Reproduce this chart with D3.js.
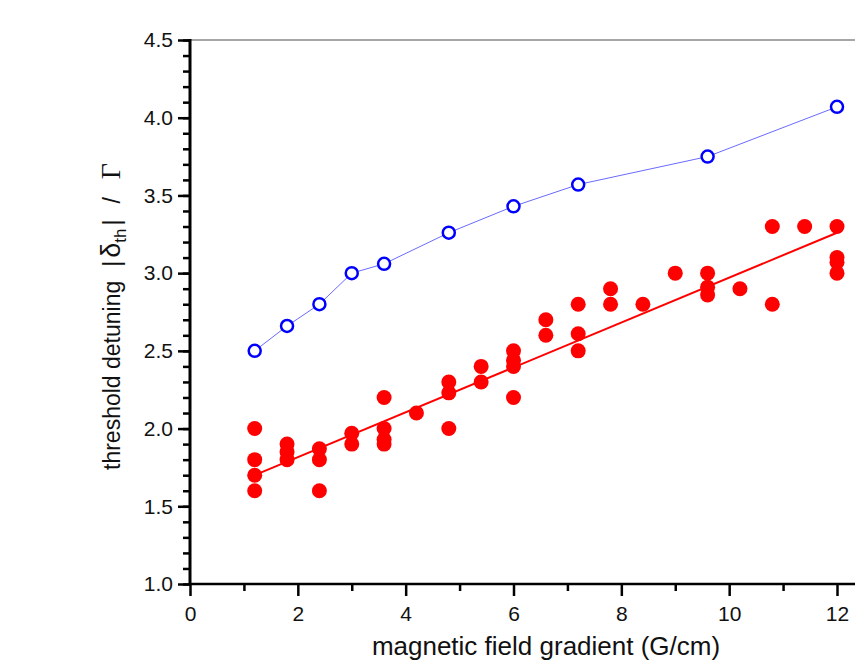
<!DOCTYPE html>
<html>
<head>
<meta charset="utf-8">
<script src="https://cdn.jsdelivr.net/npm/d3@7"></script>
<style>
  body { margin: 0; background: #fff; }
  text { font-family: "Liberation Sans", Arial, sans-serif; }
</style>
</head>
<body>
<svg id="chart" width="855" height="667"></svg>
<script>
// Open blue circles (connected)
var blueX = [1.2, 1.8, 2.4, 3.0, 3.6, 4.8, 6.0, 7.2, 9.6, 12.0];
var blueY = [2.50, 2.66, 2.80, 3.00, 3.06, 3.26, 3.43, 3.57, 3.75, 4.07];

// Filled red circles (measurements)
var redX = [1.2, 1.2, 1.2, 1.2,
            1.8, 1.8, 1.8,
            2.4, 2.4, 2.4,
            3.0, 3.0,
            3.6, 3.6, 3.6, 3.6,
            4.2,
            4.8, 4.8, 4.8,
            5.4, 5.4,
            6.0, 6.0, 6.0, 6.0,
            6.6, 6.6,
            7.2, 7.2, 7.2,
            7.8, 7.8,
            8.4, 9.0,
            9.6, 9.6, 9.6,
            10.2,
            10.8, 10.8,
            11.4,
            12.0, 12.0, 12.0, 12.0];
var redY = [2.00, 1.80, 1.70, 1.60,
            1.90, 1.85, 1.80,
            1.87, 1.80, 1.60,
            1.97, 1.90,
            2.20, 2.00, 1.93, 1.90,
            2.10,
            2.30, 2.23, 2.00,
            2.40, 2.30,
            2.50, 2.44, 2.40, 2.20,
            2.70, 2.60,
            2.80, 2.61, 2.50,
            2.90, 2.80,
            2.80, 3.00,
            3.00, 2.91, 2.86,
            2.90,
            3.30, 2.80,
            3.30,
            3.30, 3.10, 3.07, 3.00];

// Linear fit line (read endpoints)
var fitX = [1.2, 12.0];
var fitY = [1.70, 3.26];

var xTicks = [0, 2, 4, 6, 8, 10, 12];
var yTicks = [1.0, 1.5, 2.0, 2.5, 3.0, 3.5, 4.0, 4.5];

var svg = d3.select("#chart");

var x = d3.scaleLinear().domain([0, 12]).range([190, 837]);
var y = d3.scaleLinear().domain([1.0, 4.5]).range([584, 40]);

// top frame line (grey)
svg.append("line")
    .attr("x1", 190).attr("x2", 855)
    .attr("y1", y(4.5)).attr("y2", y(4.5))
    .attr("stroke", "#888").attr("stroke-width", 1.5);

// minor ticks
var yMinor = d3.range(10, 46).map(function(d) { return d / 10; });
svg.append("g")
    .attr("transform", "translate(190,0)")
    .call(d3.axisLeft(y).tickValues(yMinor).tickSize(7).tickFormat(""))
    .call(function(g) { g.select(".domain").remove(); })
    .selectAll("line").attr("stroke-width", 2.5);

svg.append("g")
    .attr("transform", "translate(0,584)")
    .call(d3.axisBottom(x).tickValues(d3.range(1, 13, 2)).tickSize(7).tickFormat(""))
    .call(function(g) { g.select(".domain").remove(); })
    .selectAll("line").attr("stroke-width", 2.5);

// major axes
var yAxis = svg.append("g")
    .attr("transform", "translate(190,0)")
    .call(d3.axisLeft(y).tickValues(yTicks).tickSize(12).tickPadding(5).tickFormat(d3.format(".1f")));
yAxis.select(".domain").remove();
yAxis.selectAll("line").attr("stroke-width", 2.5);
yAxis.selectAll("text").style("font-size", "21px").attr("fill", "#111");

var xAxis = svg.append("g")
    .attr("transform", "translate(0,584)")
    .call(d3.axisBottom(x).tickValues(xTicks).tickSize(12).tickPadding(10).tickFormat(d3.format("d")));
xAxis.select(".domain").remove();
xAxis.selectAll("line").attr("stroke-width", 2.5);
xAxis.selectAll("text").style("font-size", "21px").attr("fill", "#111");

svg.append("line")
    .attr("x1", 190).attr("x2", 190)
    .attr("y1", 39).attr("y2", 585)
    .attr("stroke", "#000").attr("stroke-width", 3);
svg.append("line")
    .attr("x1", 189).attr("x2", 855)
    .attr("y1", 584).attr("y2", 584)
    .attr("stroke", "#000").attr("stroke-width", 2.5);

// axis titles
svg.append("text")
    .attr("x", 546).attr("y", 655)
    .attr("text-anchor", "middle")
    .style("font-size", "26px")
    .attr("fill", "#111")
    .text("magnetic field gradient (G/cm)");

var yt = svg.append("text")
    .attr("transform", "translate(120,470) rotate(-90)")
    .attr("text-anchor", "start")
    .attr("fill", "#111")
    .style("font-size", "23px");
yt.append("tspan").text("threshold detuning");
yt.append("tspan").attr("dx", 14).text("|");
yt.append("tspan").attr("dx", 3).style("font-size", "27px").text("δ");
yt.append("tspan").attr("dy", 6).style("font-size", "17px").text("th");
yt.append("tspan").attr("dy", -6).attr("dx", 3).text("|");
yt.append("tspan").attr("dx", 16).text("/");
yt.append("tspan").attr("dx", 18)
    .style("font-family", "'Liberation Serif', 'Times New Roman', serif")
    .style("font-size", "28px")
    .text("Γ");

// fit line
svg.append("line")
    .attr("x1", x(fitX[0])).attr("y1", y(fitY[0]))
    .attr("x2", x(fitX[1])).attr("y2", y(fitY[1]))
    .attr("stroke", "#ff0000").attr("stroke-width", 2);

// red points
svg.selectAll(".red")
    .data(redX.map(function(d, i) { return [d, redY[i]]; }))
    .enter().append("circle")
    .attr("class", "red")
    .attr("cx", function(d) { return x(d[0]); })
    .attr("cy", function(d) { return y(d[1]); })
    .attr("r", 7.5)
    .attr("fill", "#ff0000");

// blue line + open circles
var blueData = blueX.map(function(d, i) { return [d, blueY[i]]; });
svg.append("path")
    .datum(blueData)
    .attr("d", d3.line().x(function(d) { return x(d[0]); }).y(function(d) { return y(d[1]); }))
    .attr("fill", "none")
    .attr("stroke", "#6a6aff")
    .attr("stroke-width", 1);

svg.selectAll(".blue")
    .data(blueData)
    .enter().append("circle")
    .attr("class", "blue")
    .attr("cx", function(d) { return x(d[0]); })
    .attr("cy", function(d) { return y(d[1]); })
    .attr("r", 6)
    .attr("fill", "#fff")
    .attr("stroke", "#0000ff")
    .attr("stroke-width", 2.5);
</script>
</body>
</html>
